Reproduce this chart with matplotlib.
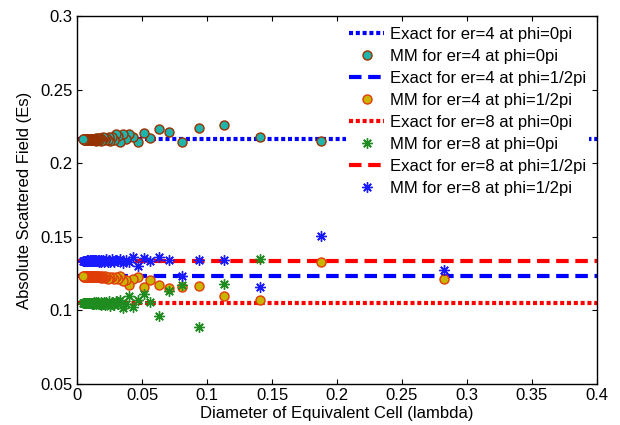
import numpy as np
import matplotlib
matplotlib.use("Agg")
import matplotlib.pyplot as plt
from matplotlib.ticker import FormatStrFormatter, MultipleLocator

plt.rcParams['font.family'] = ['Liberation Sans', 'DejaVu Sans']
plt.rcParams['font.size'] = 12
plt.rcParams['lines.scale_dashes'] = False

nan = np.nan

# diameter of equivalent cell (lambda)
cell_d = [0.282, 0.188, 0.141, 0.113, 0.094, 0.0806, 0.0705, 0.0627, 0.0564, 0.0513,
          0.047, 0.0434, 0.0403, 0.0376, 0.0353, 0.0332, 0.0313, 0.0297, 0.0282, 0.0269,
          0.0256, 0.0245, 0.0235, 0.0226, 0.0217, 0.0209, 0.0201, 0.0195, 0.0188, 0.0182,
          0.0176, 0.0171, 0.0166, 0.0161, 0.0157, 0.0152, 0.0148, 0.0145, 0.0141, 0.0138,
          0.0134, 0.0131, 0.0128, 0.0125, 0.0123, 0.0120, 0.0118, 0.0115, 0.0113, 0.0111,
          0.0108, 0.0106, 0.0104, 0.0102, 0.0100, 0.0097, 0.0094, 0.0091, 0.0088, 0.0085,
          0.0082, 0.0080, 0.0078, 0.0075, 0.0072, 0.0070, 0.0068, 0.0066, 0.0064, 0.0062,
          0.0060, 0.0058, 0.0056, 0.0054, 0.0052, 0.0050, 0.0048]

# exact values
exact_er4_phi0 = 0.2161
exact_er4_phi90 = 0.1233
exact_er8_phi0 = 0.1048
exact_er8_phi90 = 0.1335

# MM results
mm_er4_phi0 = [nan, 0.2152, 0.2177, 0.2256, 0.2236, 0.2141, 0.2211, 0.2233, 0.2168, 0.2202,
               0.2141, 0.2179, 0.2197, 0.2163, 0.2197, 0.2143, 0.2185, 0.2197, 0.2158, 0.2175,
               0.2150, 0.2180, 0.2160, 0.2172, 0.2155, 0.2168, 0.2176, 0.2158, 0.2165, 0.2150,
               0.2170, 0.2162, 0.2158, 0.2172, 0.2160, 0.2166, 0.2154, 0.2168, 0.2162, 0.2158,
               0.2165, 0.2160, 0.2167, 0.2156, 0.2163, 0.2160, 0.2166, 0.2158, 0.2162, 0.2164,
               0.2157, 0.2163, 0.2160, 0.2165, 0.2159, 0.2162, 0.2161, 0.2163, 0.2158, 0.2162,
               0.2160, 0.2163, 0.2161, 0.2159, 0.2162, 0.2160, 0.2161, 0.2163, 0.2160, 0.2161,
               0.2162, 0.2160, 0.2161, 0.2162, 0.2161, 0.2160, 0.2161]
mm_er4_phi90 = [0.1216, 0.1331, 0.1068, 0.1097, 0.1163, 0.1158, 0.1152, 0.1170, 0.1204, 0.1158,
                0.1226, 0.1210, 0.1172, 0.1204, 0.1200, 0.1231, 0.1215, 0.1225, 0.1212, 0.1226,
                0.1218, 0.1230, 0.1216, 0.1224, 0.1232, 0.1220, 0.1227, 0.1233, 0.1223, 0.1228,
                0.1234, 0.1224, 0.1229, 0.1233, 0.1226, 0.1231, 0.1228, 0.1233, 0.1226, 0.1231,
                0.1232, 0.1228, 0.1231, 0.1229, 0.1233, 0.1230, 0.1232, 0.1229, 0.1231, 0.1232,
                0.1229, 0.1231, 0.1230, 0.1228, 0.1231, 0.1230, 0.1232, 0.1229, 0.1231, 0.1230,
                0.1231, 0.1229, 0.1230, 0.1232, 0.1230, 0.1231, 0.1230, 0.1229, 0.1231, 0.1230,
                0.1231, 0.1230, 0.1231, 0.1230, 0.1231, 0.1230, 0.1231]
mm_er8_phi0 = [nan, nan, 0.1352, 0.1180, 0.0884, 0.1175, 0.1131, 0.0964, 0.1054, 0.1114,
               0.1073, 0.1025, 0.1100, 0.1045, 0.1018, 0.1070, 0.1040, 0.1062, 0.1035, 0.1058,
               0.1032, 0.1066, 0.1042, 0.1055, 0.1036, 0.1060, 0.1044, 0.1053, 0.1038, 0.1059,
               0.1046, 0.1052, 0.1040, 0.1057, 0.1047, 0.1050, 0.1042, 0.1056, 0.1048, 0.1051,
               0.1044, 0.1054, 0.1049, 0.1046, 0.1053, 0.1048, 0.1051, 0.1045, 0.1052, 0.1049,
               0.1047, 0.1052, 0.1049, 0.1050, 0.1047, 0.1051, 0.1049, 0.1050, 0.1048, 0.1051,
               0.1049, 0.1050, 0.1048, 0.1050, 0.1049, 0.1051, 0.1049, 0.1050, 0.1049, 0.1050,
               0.1049, 0.1050, 0.1049, 0.1050, 0.1049, 0.1050, 0.1049]
mm_er8_phi90 = [0.1272, 0.1505, 0.1158, 0.1340, 0.1340, 0.1231, 0.1340, 0.1365, 0.1333, 0.1355,
                0.1300, 0.1362, 0.1330, 0.1345, 0.1325, 0.1352, 0.1335, 0.1340, 0.1328, 0.1346,
                0.1332, 0.1342, 0.1330, 0.1348, 0.1336, 0.1329, 0.1344, 0.1338, 0.1331, 0.1343,
                0.1335, 0.1341, 0.1332, 0.1345, 0.1337, 0.1334, 0.1342, 0.1336, 0.1339, 0.1333,
                0.1341, 0.1337, 0.1335, 0.1340, 0.1336, 0.1339, 0.1337, 0.1334, 0.1340, 0.1338,
                0.1336, 0.1339, 0.1337, 0.1338, 0.1336, 0.1339, 0.1337, 0.1338, 0.1337, 0.1339,
                0.1338, 0.1337, 0.1338, 0.1339, 0.1337, 0.1338, 0.1337, 0.1338, 0.1338, 0.1337,
                0.1338, 0.1337, 0.1338, 0.1338, 0.1337, 0.1338, 0.1338]

fig = plt.figure(figsize=(6.2, 4.25), dpi=100)
ax = fig.add_axes([0.1242, 0.0965, 0.8387, 0.8659])

xr = [0, 0.4]
dot = (0, (2.9, 2.0))
dash = (0, (9.0, 4.8))
circ = dict(marker='o', linestyle='none', markersize=6.5, markeredgewidth=1.0, zorder=3)
star = dict(marker=(8, 2, 0), linestyle='none', markersize=7.5, markeredgewidth=1.0, zorder=3)

ax.plot(xr, [exact_er4_phi0] * 2, color='#0000ff', linewidth=3, linestyle=dot,
        label='Exact for er=4 at phi=0pi', zorder=2)
ax.plot(cell_d, mm_er4_phi0, markerfacecolor='#1eb4ac', markeredgecolor='#983200',
        label='MM for er=4 at phi=0pi', **circ)
ax.plot(xr, [exact_er4_phi90] * 2, color='#0000ff', linewidth=3, linestyle=dash,
        label='Exact for er=4 at phi=1/2pi', zorder=2)
ax.plot(cell_d, mm_er4_phi90, markerfacecolor='#cab400', markeredgecolor='#e03c08',
        label='MM for er=4 at phi=1/2pi', **circ)
ax.plot(xr, [exact_er8_phi0] * 2, color='#ff0000', linewidth=3, linestyle=dot,
        label='Exact for er=8 at phi=0pi', zorder=2)
ax.plot(cell_d, mm_er8_phi0, color='#1e8c1e', label='MM for er=8 at phi=0pi', **star)
ax.plot(xr, [exact_er8_phi90] * 2, color='#ff0000', linewidth=3, linestyle=dash,
        label='Exact for er=8 at phi=1/2pi', zorder=2)
ax.plot(cell_d, mm_er8_phi90, color='#1a1aff', label='MM for er=8 at phi=1/2pi', **star)

ax.set_xlim(0, 0.4)
ax.set_ylim(0.05, 0.3)
ax.xaxis.set_major_locator(MultipleLocator(0.05))
ax.yaxis.set_major_locator(MultipleLocator(0.05))
ax.xaxis.set_major_formatter(FormatStrFormatter('%g'))
ax.yaxis.set_major_formatter(FormatStrFormatter('%g'))
ax.tick_params(direction='in', length=3.5, width=0.8, top=True, right=True,
               labelsize=12, pad=3)
for s in ax.spines.values():
    s.set_linewidth(1.0)

ax.set_xlabel('Diameter of Equivalent Cell (lambda)', fontsize=12, labelpad=2)
ax.set_ylabel('Absolute Scattered Field (Es)', fontsize=12, labelpad=6)

leg = ax.legend(loc='upper right', fontsize=12, frameon=True, fancybox=False,
                handlelength=2.1, handletextpad=0.36, labelspacing=0.42,
                borderaxespad=0.45, borderpad=0.2)
leg.get_frame().set_facecolor('white')
leg.get_frame().set_edgecolor('none')
leg.get_frame().set_alpha(1.0)

fig.savefig('out.png', dpi=100)
